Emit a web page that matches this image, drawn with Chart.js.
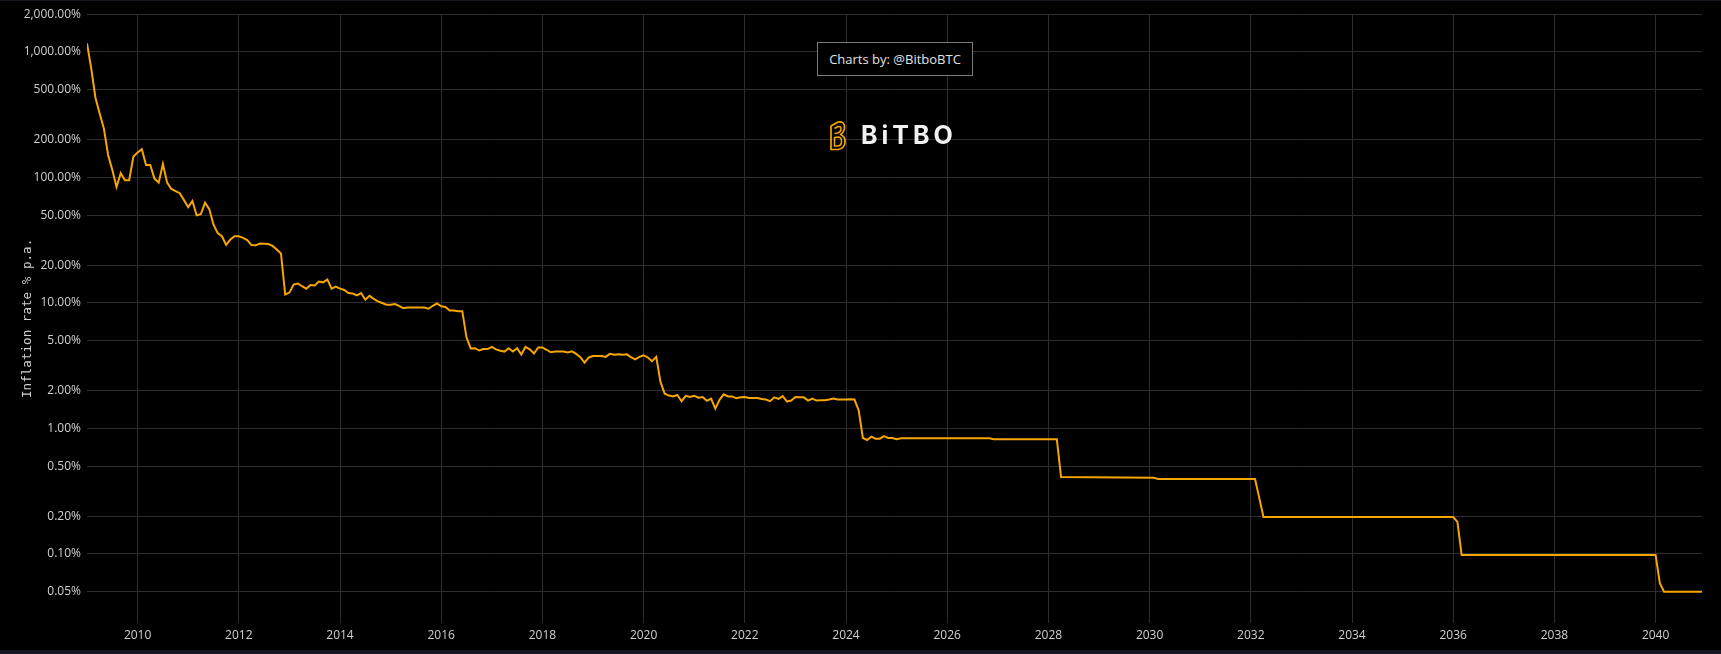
<!DOCTYPE html>
<html>
<head>
<meta charset="utf-8">
<title>Bitcoin Inflation Rate</title>
<script src="https://cdn.jsdelivr.net/npm/chart.js@4.4.1/dist/chart.umd.min.js"></script>
<style>
  html, body { margin: 0; padding: 0; background: #15161e; }
  body { width: 1721px; height: 654px; overflow: hidden; position: relative; }
  #wrap { position: absolute; left: 0; top: 1px; width: 1721px; height: 649px; background: #000; }
  #credit {
    position: absolute; left: 817px; top: 41px; width: 154px; height: 32px;
    border: 1px solid #7a7a7a; color: #e2e2e2; background: #000;
    font: 13px 'Open Sans', sans-serif; line-height: 32px; text-align: center;
  }
  #logo { position: absolute; left: 829px; top: 119px; height: 31px; display: flex; align-items: center; }
  #logo span {
    margin-left: 14px; color: #f2f2f2; font: 700 25px 'Inter', sans-serif;
    letter-spacing: 4px; line-height: 31px;
  }
</style>
</head>
<body>
<div id="wrap">
  <canvas id="inflationChart"></canvas>
  <div id="credit">Charts by: @BitboBTC</div>
  <div id="logo">
    <svg width="18" height="31" viewBox="0 0 18 31">
      <path d="M2 6 L9 2 Q16 1 15.5 8 Q15 12.5 11.5 14.5 Q16.5 16.5 16 22.5 Q15.5 28.5 9 29.5 L2 29.5 Z" fill="none" stroke="#f7a600" stroke-width="1.7" stroke-linejoin="round"/>
      <path d="M5.5 8.5 L9 6.5 Q12 6 12 9 Q12 12 8.5 13 L5.5 13.5 M5.5 17.5 L9 17 Q12.5 17 12.5 21.5 Q12.5 25.5 9 26 L5.5 26 Z" fill="none" stroke="#f7a600" stroke-width="1.5" stroke-linejoin="round"/>
    </svg>
    <span>BiTBO</span>
  </div>
</div>
<script>
// monthly inflation rate (% p.a.), one row per year starting Jan 2009
const startYear = 2009;
const historicRates = [
  1172, 740, 432, 324, 246, 151, 115, 84, 108, 95, 95, 147,
  158, 168, 126, 126, 98, 91, 128, 91, 81, 78, 75, 66,
  58, 65, 50, 51, 63, 56, 42, 36, 34, 29, 32, 34,
  34, 33, 31.7, 28.9, 28.8, 29.8, 29.7, 29.5, 28.5, 26.7, 24.8, 11.7,
  12.1, 14.0, 14.3, 13.6, 13.0, 13.9, 13.8, 14.8, 14.6, 15.4, 13.0, 13.5,
  13.0, 12.7, 12.0, 11.9, 11.5, 12.0, 10.6, 11.4, 10.8, 10.3, 10.0, 9.7,
  9.7, 9.8, 9.5, 9.1, 9.2, 9.2, 9.2, 9.2, 9.2, 9.0, 9.5, 9.9,
  9.4, 9.3, 8.7, 8.7, 8.6, 8.6, 5.3, 4.34, 4.36, 4.18, 4.29, 4.29,
  4.47, 4.27, 4.16, 4.10, 4.36, 4.10, 4.36, 3.88, 4.47, 4.27, 3.96, 4.42,
  4.42, 4.24, 4.05, 4.10, 4.10, 4.10, 4.03, 4.12, 3.93, 3.70, 3.35, 3.68,
  3.78, 3.78, 3.78, 3.72, 3.93, 3.87, 3.90, 3.87, 3.90, 3.70, 3.56, 3.72,
  3.83, 3.68, 3.44, 3.72, 2.35, 1.89, 1.83, 1.80, 1.85, 1.65, 1.82, 1.78,
  1.82, 1.76, 1.78, 1.66, 1.73, 1.44, 1.69, 1.87, 1.80, 1.80, 1.74, 1.77,
  1.78, 1.75, 1.75, 1.75, 1.72, 1.70, 1.65, 1.77, 1.72, 1.81, 1.64, 1.67,
  1.78, 1.77, 1.77, 1.67, 1.73, 1.67, 1.68, 1.68, 1.70, 1.73, 1.70, 1.70,
  1.70, 1.71, 1.70, 1.40, 0.84, 0.81, 0.86, 0.83, 0.83, 0.87, 0.84, 0.84,
  0.82, 0.835
];
// projected schedule: month index (counted from Jan 2009) and rate at the corners
const projectedMonths = [214, 215, 230, 231, 253, 254, 277, 278, 279, 324, 325, 326, 372, 373, 374, 383];
const projectedRates = [0.835, 0.82, 0.82, 0.41, 0.405, 0.396, 0.396, 0.28, 0.197, 0.197, 0.18, 0.098, 0.098, 0.0586, 0.05, 0.05];

const yTickValues = [2000, 1000, 500, 200, 100, 50, 20, 10, 5, 2, 1, 0.5, 0.2, 0.1, 0.05];
const xTickYears = [2010, 2012, 2014, 2016, 2018, 2020, 2022, 2024, 2026, 2028, 2030, 2032, 2034, 2036, 2038, 2040];

const points = historicRates.map((v, i) => ({ x: startYear + i / 12, y: v }))
  .concat(projectedMonths.map((m, i) => ({ x: startYear + m / 12, y: projectedRates[i] })));

const labelColor = '#d0d0d0';
const gridColor = '#2d2d2d';
Chart.defaults.font.family = "'Open Sans', sans-serif";
Chart.defaults.font.size = 12;

function pct(v) {
  return Number(v).toLocaleString('en-US', { minimumFractionDigits: 2, maximumFractionDigits: 2 }) + '%';
}

new Chart(document.getElementById('inflationChart'), {
  type: 'line',
  data: {
    datasets: [{
      data: points,
      borderColor: '#f7a600',
      borderWidth: 2,
      pointRadius: 0,
      tension: 0,
      fill: false
    }]
  },
  options: {
    responsive: true,
    maintainAspectRatio: false,
    animation: false,
    layout: { padding: { top: 11, right: 19, bottom: 1, left: 0 } },
    plugins: { legend: { display: false }, tooltip: { enabled: false } },
    scales: {
      x: {
        type: 'linear',
        min: startYear,
        max: startYear + 383 / 12,
        afterBuildTicks: s => { s.ticks = xTickYears.map(v => ({ value: v })); },
        grid: { color: gridColor, drawTicks: false },
        border: { display: false },
        ticks: { color: labelColor, padding: 6, maxRotation: 0, autoSkip: false, callback: v => String(v) }
      },
      y: {
        type: 'logarithmic',
        min: 0.0284,
        max: 2000,
        afterBuildTicks: s => { s.ticks = yTickValues.map(v => ({ value: v })); },
        afterFit: s => { s.width = 87; },
        grid: { color: gridColor, drawTicks: false },
        border: { display: false },
        ticks: { color: labelColor, padding: 6, autoSkip: false, callback: v => pct(v) },
        title: {
          display: true,
          text: 'Inflation rate % p.a.',
          color: labelColor,
          font: { family: "'DejaVu Sans Mono', monospace", size: 12.6 },
          padding: { top: 20, bottom: 0 }
        }
      }
    }
  }
});
</script>
</body>
</html>
